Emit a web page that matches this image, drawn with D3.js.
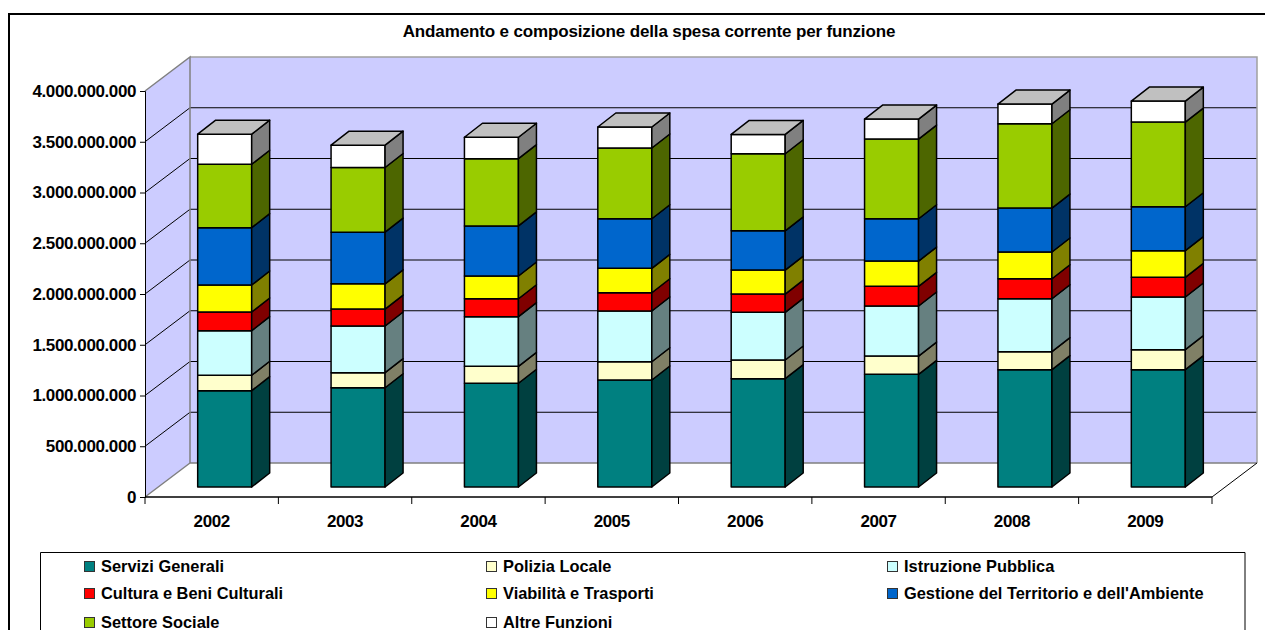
<!DOCTYPE html>
<html>
<head>
<meta charset="utf-8">
<script src="https://d3js.org/d3.v7.min.js"></script>
<style>
    body { margin: 0; background: #fff; }
    svg { display: block; }
    text { font-family: "Liberation Sans", Arial, sans-serif; font-weight: bold; fill: #000; }
</style>
</head>
<body>
<div id="chart"></div>
<script>
const titleText = 'Andamento e composizione della spesa corrente per funzione';
const years = ['2002', '2003', '2004', '2005', '2006', '2007', '2008', '2009'];
const yTicks = [0, 500e6, 1000e6, 1500e6, 2000e6, 2500e6, 3000e6, 3500e6, 4000e6];

// values, in millions
const serviziGenerali = [949, 978, 1022, 1054, 1067, 1110, 1156, 1156];
const poliziaLocale = [152, 148, 167, 180, 184, 180, 177, 197];
const istruzionePubblica = [439, 460, 489, 500, 470, 493, 522, 519];
const culturaBeni = [184, 167, 177, 180, 180, 194, 197, 194];
const viabilita = [266, 249, 224, 240, 236, 249, 263, 262];
const gestioneTerritorio = [565, 509, 493, 489, 387, 417, 433, 433];
const settoreSociale = [625, 637, 663, 697, 759, 785, 831, 834];
const altreFunzioni = [296, 220, 211, 207, 191, 197, 194, 207];

const seriesNames = ['Servizi Generali', 'Polizia Locale', 'Istruzione Pubblica', 'Cultura e Beni Culturali',
    'Viabilità e Trasporti', "Gestione del Territorio e dell'Ambiente", 'Settore Sociale', 'Altre Funzioni'];
const seriesValues = [serviziGenerali, poliziaLocale, istruzionePubblica, culturaBeni,
    viabilita, gestioneTerritorio, settoreSociale, altreFunzioni];
const frontColors = ['#008080', '#FFFFCC', '#CCFFFF', '#FF0000', '#FFFF00', '#0066CC', '#99CC00', '#FFFFFF'];
const sideColors = ['#004040', '#808066', '#668080', '#800000', '#808000', '#003366', '#4D6600', '#808080'];
const topColor = '#C0C0C0';

const width = 1265, height = 630;
const plotLeft = 145, plotRight = 1212, plotBottom = 497, plotTop = 91;
const wallDx = 45, wallDy = 34;      // depth of the 3d box
const floorDx = 13, floorDy = 10;    // where the bar front sits on the floor
const barW = 54, barDx = 18, barDy = 14;

const svg = d3.select('#chart').append('svg')
    .attr('width', width)
    .attr('height', height);

const x = d3.scaleBand().domain(years).range([plotLeft, plotRight]);
const y = d3.scaleLinear().domain([0, 4000e6]).range([plotBottom, plotTop]);

const poly = pts => 'M' + pts.map(p => p.join(',')).join('L') + 'Z';

// outer frame, right and bottom are cut off by the picture
svg.append('path')
    .attr('d', 'M9,630V14H1265')
    .attr('fill', 'none')
    .attr('stroke', '#000')
    .attr('stroke-width', 2);

svg.append('text')
    .attr('x', 649)
    .attr('y', 37)
    .attr('text-anchor', 'middle')
    .attr('font-size', 17)
    .attr('letter-spacing', -0.14)
    .text(titleText);

// walls
const walls = svg.append('g');
walls.append('path')
    .attr('d', poly([[plotLeft, y(0)], [plotLeft, y(4000e6)], [plotLeft + wallDx, y(4000e6) - wallDy], [plotLeft + wallDx, y(0) - wallDy]]))
    .attr('fill', '#CCCCFF');
walls.append('rect')
    .attr('x', plotLeft + wallDx)
    .attr('y', y(4000e6) - wallDy)
    .attr('width', plotRight - plotLeft)
    .attr('height', y(0) - y(4000e6))
    .attr('fill', '#CCCCFF');

// gridlines on both walls
yTicks.slice(1, -1).forEach(t => {
    walls.append('path')
        .attr('d', `M${plotLeft},${y(t)}L${plotLeft + wallDx},${y(t) - wallDy}H${plotRight + wallDx}`)
        .attr('fill', 'none')
        .attr('stroke', '#000')
        .attr('stroke-width', 1);
});

// wall edges
walls.append('path')
    .attr('d', `M${plotLeft + wallDx},${y(4000e6) - wallDy}H${plotRight + wallDx}V${y(0) - wallDy}`)
    .attr('fill', 'none')
    .attr('stroke', '#A0A0A0')
    .attr('stroke-width', 1.5);
walls.append('path')
    .attr('d', `M${plotLeft},${y(4000e6)}L${plotLeft + wallDx},${y(4000e6) - wallDy}V${y(0) - wallDy}H${plotRight + wallDx}M${plotLeft},${y(0)}L${plotLeft + wallDx},${y(0) - wallDy}`)
    .attr('fill', 'none')
    .attr('stroke', '#808080')
    .attr('stroke-width', 1.5);
walls.append('path')
    .attr('d', `M${plotRight},${y(0)}L${plotRight + wallDx},${y(0) - wallDy}`)
    .attr('fill', 'none')
    .attr('stroke', '#000')
    .attr('stroke-width', 1);

// axes
const yAxis = d3.axisLeft(y)
    .tickValues(yTicks)
    .tickSize(5)
    .tickPadding(4)
    .tickFormat(d => d3.format(',')(d).replace(/,/g, '.'));
const yG = svg.append('g')
    .attr('transform', `translate(${plotLeft},0)`)
    .call(yAxis);
yG.select('.domain').attr('stroke', '#000').attr('stroke-width', 1);
yG.selectAll('text')
    .attr('font-size', 17)
    .attr('letter-spacing', -0.4)
    .attr('font-family', '"Liberation Sans", Arial, sans-serif');

const xAxis = d3.axisBottom(x).tickSize(0).tickPadding(18);
const xG = svg.append('g')
    .attr('transform', `translate(0,${plotBottom})`)
    .call(xAxis);
xG.select('.domain').remove();
xG.selectAll('text')
    .attr('font-size', 17)
    .attr('letter-spacing', -0.4)
    .attr('font-family', '"Liberation Sans", Arial, sans-serif');
xG.append('line')
    .attr('x1', plotLeft)
    .attr('x2', plotRight)
    .attr('stroke', '#000')
    .attr('stroke-width', 1.5);
d3.range(years.length + 1).forEach(i => {
    const tx = plotLeft + i * x.bandwidth();
    xG.append('line')
        .attr('x1', tx)
        .attr('x2', tx)
        .attr('y2', 7)
        .attr('stroke', '#000');
});

// bars
const table = years.map((yr, i) => {
    const row = { year: yr };
    seriesNames.forEach((name, s) => { row[name] = seriesValues[s][i] * 1e6; });
    return row;
});
const stacked = d3.stack().keys(seriesNames)(table);

const bars = svg.append('g')
    .attr('stroke', '#000')
    .attr('stroke-width', 1.5)
    .attr('stroke-linejoin', 'round');

years.forEach((yr, i) => {
    const x0 = x(yr) + x.bandwidth() / 2 + floorDx - barW / 2;
    const x1 = x0 + barW;
    stacked.forEach((layer, s) => {
        const y0 = y(layer[i][0]) - floorDy;
        const y1 = y(layer[i][1]) - floorDy;
        bars.append('rect')
            .attr('x', x0)
            .attr('y', y1)
            .attr('width', barW)
            .attr('height', y0 - y1)
            .attr('fill', frontColors[s]);
        bars.append('path')
            .attr('d', poly([[x1, y0], [x1, y1], [x1 + barDx, y1 - barDy], [x1 + barDx, y0 - barDy]]))
            .attr('fill', sideColors[s]);
        if (s === stacked.length - 1) {
            bars.append('path')
                .attr('d', poly([[x0, y1], [x1, y1], [x1 + barDx, y1 - barDy], [x0 + barDx, y1 - barDy]]))
                .attr('fill', topColor);
        }
    });
});

// legend, cut off at the bottom like the reference
svg.append('path')
    .attr('d', 'M40.5,630V552.5H1245V630')
    .attr('fill', 'none')
    .attr('stroke', '#000')
    .attr('stroke-width', 1);

const legendX = [84, 486, 887];
const legendY = [561, 588, 617];
const legend = svg.append('g');
seriesNames.forEach((name, s) => {
    const lx = legendX[s % 3];
    const ly = legendY[Math.floor(s / 3)];
    legend.append('rect')
        .attr('x', lx + 0.5)
        .attr('y', ly + 0.5)
        .attr('width', 10)
        .attr('height', 10)
        .attr('fill', frontColors[s])
        .attr('stroke', '#333');
    legend.append('text')
        .attr('x', lx + 17)
        .attr('y', ly + 11)
        .attr('font-size', 16.4)
        .text(name);
});
</script>
</body>
</html>
